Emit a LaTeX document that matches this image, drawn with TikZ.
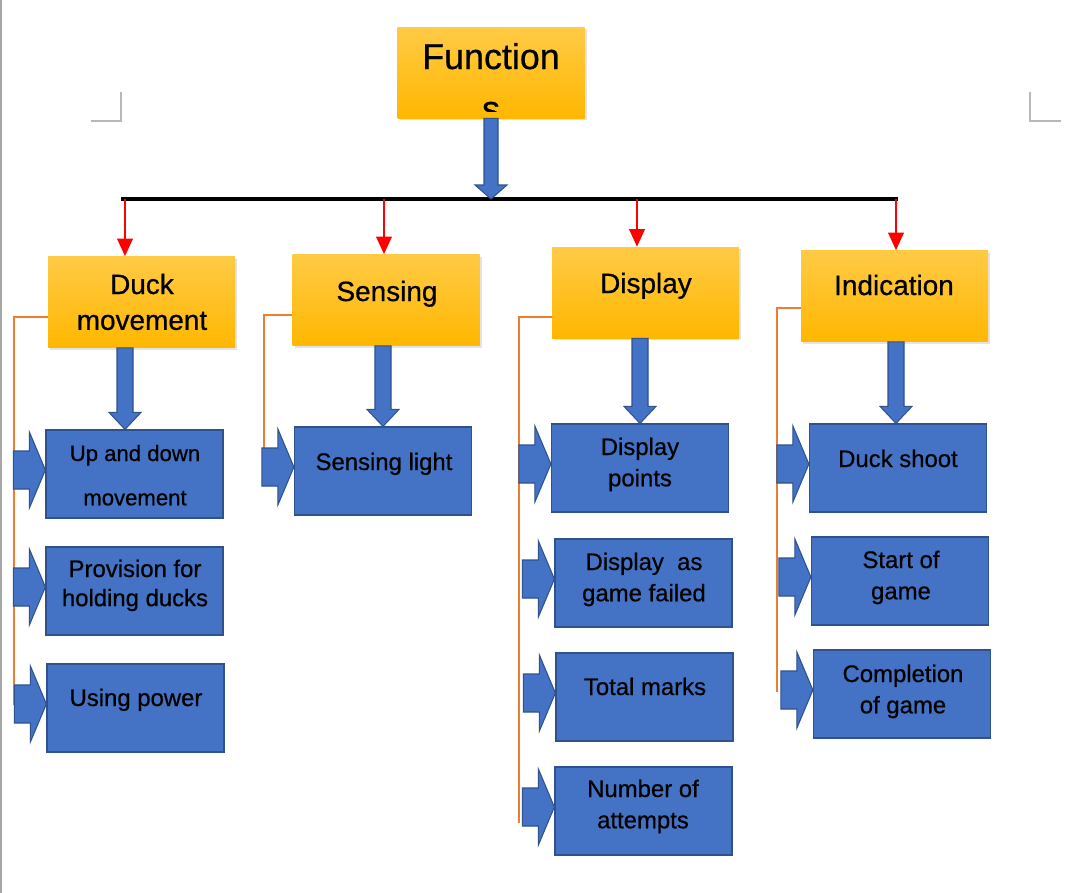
\documentclass[tikz,border=0pt]{standalone}
\usepackage{fontspec}
\setmainfont{Liberation Sans}[FakeBold=0.6]
\usetikzlibrary{arrows.meta,calc,shadows}
\definecolor{bfill}{HTML}{4472C4}
\definecolor{bline}{HTML}{2F528F}
\definecolor{ytop}{HTML}{FFCA45}
\definecolor{ybot}{HTML}{FFB700}
\definecolor{orng}{HTML}{ED7D31}
\definecolor{cornerc}{HTML}{B8B8B8}
\newcommand\twol[2]{\begin{tabular}[t]{@{}c@{}}#1\\#2\end{tabular}}
% right-pointing block arrow ending at the left side of a box
\newcommand\blkright[1]{\filldraw[blk] ($(#1.west)+(0,-4)$) -- ++(-16,-38) -- ++(0,19) -- ++(-16,0) -- ++(0,38) -- ++(16,0) -- ++(0,19) -- cycle;}
% downward block arrow: #1 start point, #2 tip point, #3 half shaft, #4 head length
\newcommand\blkdown[4]{\filldraw[blk] ($(#1)+(-#3,0)$) -- ($(#2)+(-#3,-#4)$) -- ($(#2)+(-16,-#4)$) -- (#2) -- ($(#2)+(16,-#4)$) -- ($(#2)+(#3,-#4)$) -- ($(#1)+(#3,0)$) -- cycle;}
\begin{document}
\begin{tikzpicture}[x=0.02cm,y=-0.02cm,
  ybox/.style={minimum width=187*0.02cm, minimum height=91*0.02cm, inner sep=0pt,
    top color=ytop, bottom color=ybot, draw=none,
    drop shadow={opacity=0.22, shadow xshift=1.2pt, shadow yshift=-1.2pt}},
  bbox/.style={minimum width=177*0.02cm, minimum height=88*0.02cm, inner sep=0pt,
    fill=bfill, draw=bline, line width=0.7pt},
  blk/.style={fill=bfill, draw=bline, line width=0.6pt, line join=miter},
  ylab/.style={anchor=base, inner sep=0pt, font=\fontsize{15.9}{20.4}\selectfont},
  blab/.style={anchor=base, inner sep=0pt, font=\fontsize{13.6}{17.8}\selectfont},
  redarr/.style={draw=red, line width=0.8pt, -{Triangle[width=9pt,length=10pt]}},
  orngline/.style={draw=orng, line width=1.3pt},
  bus/.style={draw=black, line width=1.8pt}]
\useasboundingbox (0,0) rectangle (1080,893);
\fill[white] (0,0) rectangle (1080,893);
% page edge and corner marks
\draw[gray!70, line width=1.2pt] (1,0) -- (1,893);
\draw[cornerc, line width=0.9pt] (91,121) -- (121,121) -- (121,92);
\draw[cornerc, line width=0.9pt] (1030,92) -- (1030,121) -- (1061,121);

% top box
\node[ybox] (fn) at (491,72.5) {};
\begin{scope}
\clip ($(fn.north west)$) rectangle ($(fn.south east)+(0,-7)$);
\node[anchor=base, inner sep=0pt, font=\fontsize{20.4}{29.6}\selectfont] (tfn) at (491,69) {\twol{Function}{s}};
\end{scope}

% bus
\coordinate (busL) at (121,199);
\coordinate (busR) at (898,199);
\coordinate (busM) at (491,199);
\draw[bus] (busL) -- (busR);
\blkdown{fn.south -| busM}{busM}{7}{14}

% second level
\node[ybox] (dm) at (141.5,302) {};
\node[ybox] (se) at (386,300) {};
\node[ybox] (di) at (645.5,292.5) {};
\node[ybox] (in) at (894.5,296) {};
\node[ylab] (tdm) at (142,294) {\twol{Duck}{movement}};
\node[ylab] (tse) at (387,301) {Sensing};
\node[ylab] (tdi) at (646,293) {Display};
\node[ylab] (tin) at (894,295) {Indication};

\coordinate (r1) at (125,199);
\coordinate (r2) at (384,199);
\coordinate (r3) at (637,199);
\coordinate (r4) at (896,199);
\draw[redarr] (r1) -- (r1 |- dm.north);
\draw[redarr] (r2) -- (r2 |- se.north);
\draw[redarr] (r3) -- (r3 |- di.north);
\draw[redarr] (r4) -- (r4 |- in.north);

% blue boxes
\node[bbox] (b11) at (134.5,474) {};
\node[bbox] (b12) at (134.5,591) {};
\node[bbox] (b13) at (135.5,708) {};
\node[bbox] (b21) at (383,471) {};
\node[bbox] (b31) at (640,468) {};
\node[bbox] (b32) at (643.5,583) {};
\node[bbox] (b33) at (644.5,697) {};
\node[bbox] (b34) at (643.5,811) {};
\node[bbox] (b41) at (898,468) {};
\node[bbox] (b42) at (900,581) {};
\node[bbox] (b43) at (902,694) {};

\node[blab, font=\fontsize{12.6}{25.2}\selectfont] (t11) at (135,461) {\twol{Up and down}{movement}};
\node[blab, font=\fontsize{13.6}{16.6}\selectfont] (t12) at (135,577) {\twol{Provision for}{holding ducks}};
\node[blab] (t13) at (136,706) {Using power};
\node[blab] (t21) at (384,470) {Sensing light};
\node[blab] (t31) at (640,455) {\twol{Display}{points}};
\node[blab] (t32) at (644,570) {\twol{Display~ as}{game failed}};
\node[blab] (t33) at (645,695) {Total marks};
\node[blab] (t34) at (643,797) {\twol{Number of}{attempts}};
\node[blab] (t41) at (898,467) {Duck shoot};
\node[blab] (t42) at (901,568) {\twol{Start of}{game}};
\node[blab] (t43) at (903,682) {\twol{Completion}{of game}};

% orange brackets
\coordinate (o1) at (14,705);
\coordinate (o2) at (264,469);
\coordinate (o3) at (519,823);
\coordinate (o4) at (777,692);
\draw[orngline] (dm.west |- 0,317) -| (o1);
\draw[orngline] (se.west |- 0,315) -| (o2);
\draw[orngline] (di.west |- 0,317) -| (o3);
\draw[orngline] (in.west |- 0,308) -| (o4);

% down block arrows
\coordinate (a1) at (125,0);
\coordinate (a2) at (383,0);
\coordinate (a3) at (640,0);
\coordinate (a4) at (896,0);
\blkdown{dm.south -| a1}{b11.north -| a1}{8}{17}
\blkdown{se.south -| a2}{b21.north -| a2}{8}{17}
\blkdown{di.south -| a3}{b31.north -| a3}{8}{17}
\blkdown{in.south -| a4}{b41.north -| a4}{8}{17}

% right block arrows
\blkright{b11}
\blkright{b12}
\blkright{b13}
\blkright{b21}
\blkright{b31}
\blkright{b32}
\blkright{b33}
\blkright{b34}
\blkright{b41}
\blkright{b42}
\blkright{b43}
\end{tikzpicture}
\end{document}
